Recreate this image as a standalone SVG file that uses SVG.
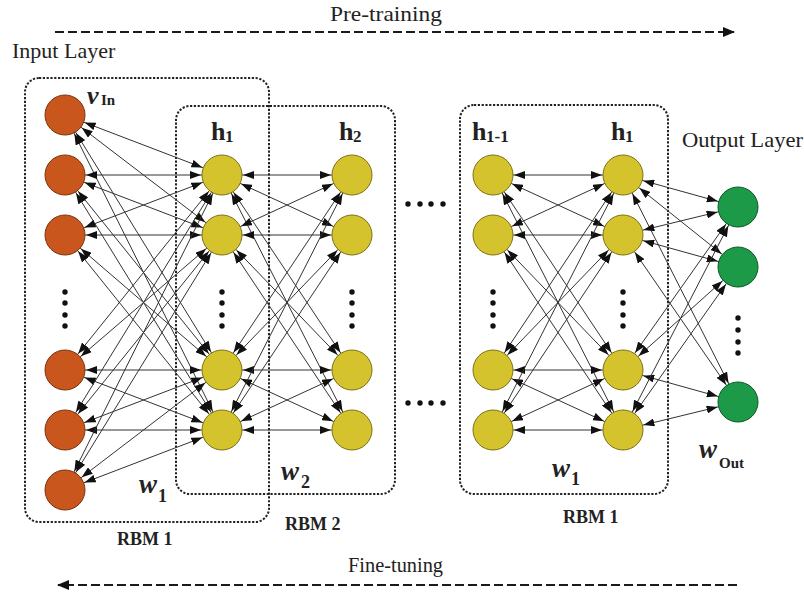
<svg xmlns="http://www.w3.org/2000/svg" width="804" height="594" viewBox="0 0 804 594">
<style>
text{font-family:"Liberation Serif","Times New Roman",serif;fill:#222}
.lbl{font-size:21px}
.b{font-weight:bold}
.it{font-style:italic;font-weight:bold}
.e line{stroke:#333;stroke-width:1;marker-start:url(#ah);marker-end:url(#ah)}
.box{fill:none;stroke:#222;stroke-width:2;stroke-dasharray:2.2 1.6}
.dash{stroke:#1a1a1a;stroke-width:2.2;stroke-dasharray:9 4;fill:none}
.o{fill:#C9571D;stroke:#7a3510;stroke-width:1}
.y{fill:#D4C32C;stroke:#7d7218;stroke-width:1}
.g{fill:#1C9A48;stroke:#0d5a28;stroke-width:1}
.dot{fill:#111}
</style>
<defs>
<marker id="ah" viewBox="0 0 32 8" markerUnits="userSpaceOnUse" markerWidth="32" markerHeight="8" refX="32" refY="4" orient="auto-start-reverse"><path d="M0,0 L11,4 L0,8 z" fill="#111"/></marker>
<marker id="big" viewBox="0 0 12 10" markerUnits="userSpaceOnUse" markerWidth="12" markerHeight="10" refX="11" refY="5" orient="auto"><path d="M0,0 L12,5 L0,10 z" fill="#111"/></marker>
<circle id="d" r="2.7" class="dot"/>
</defs>
<rect width="804" height="594" fill="#fff"/>

<!-- training arrows -->
<g id="pretraining">
<text class="lbl" x="330" y="21" textLength="112" lengthAdjust="spacingAndGlyphs">Pre-training</text>
<line class="dash" x1="55" y1="32" x2="734" y2="32" marker-end="url(#big)"/>
</g>
<g id="finetuning">
<text class="lbl" x="348" y="572" textLength="95" lengthAdjust="spacingAndGlyphs">Fine-tuning</text>
<line class="dash" x1="737" y1="585" x2="58" y2="585" marker-end="url(#big)"/>
</g>

<!-- boxes -->
<g id="rbm1-left">
<rect class="box" x="25" y="78" width="244" height="444" rx="14"/>
<text class="b" x="117" y="545" font-size="18">RBM 1</text>
</g>
<g id="rbm2">
<rect class="box" x="176" y="106" width="219" height="388" rx="14"/>
<text class="b" x="285" y="530" font-size="18">RBM 2</text>
</g>
<g id="rbm1-right">
<rect class="box" x="460" y="105" width="208" height="389" rx="14"/>
<text class="b" x="563" y="523" font-size="18">RBM 1</text>
</g>

<!-- connectors -->
<g id="connectors" class="e">
<line x1="65" y1="115" x2="222" y2="175"/><line x1="65" y1="115" x2="222" y2="235"/><line x1="65" y1="115" x2="222" y2="370"/><line x1="65" y1="115" x2="222" y2="430"/>
<line x1="65" y1="175" x2="222" y2="175"/><line x1="65" y1="175" x2="222" y2="235"/><line x1="65" y1="175" x2="222" y2="370"/><line x1="65" y1="175" x2="222" y2="430"/>
<line x1="65" y1="235" x2="222" y2="175"/><line x1="65" y1="235" x2="222" y2="235"/><line x1="65" y1="235" x2="222" y2="370"/><line x1="65" y1="235" x2="222" y2="430"/>
<line x1="65" y1="370" x2="222" y2="175"/><line x1="65" y1="370" x2="222" y2="235"/><line x1="65" y1="370" x2="222" y2="370"/><line x1="65" y1="370" x2="222" y2="430"/>
<line x1="65" y1="430" x2="222" y2="175"/><line x1="65" y1="430" x2="222" y2="235"/><line x1="65" y1="430" x2="222" y2="370"/><line x1="65" y1="430" x2="222" y2="430"/>
<line x1="65" y1="490" x2="222" y2="175"/><line x1="65" y1="490" x2="222" y2="235"/><line x1="65" y1="490" x2="222" y2="370"/><line x1="65" y1="490" x2="222" y2="430"/>

<line x1="222" y1="175" x2="352" y2="175"/><line x1="222" y1="175" x2="352" y2="235"/><line x1="222" y1="175" x2="352" y2="370"/><line x1="222" y1="175" x2="352" y2="430"/>
<line x1="222" y1="235" x2="352" y2="175"/><line x1="222" y1="235" x2="352" y2="235"/><line x1="222" y1="235" x2="352" y2="370"/><line x1="222" y1="235" x2="352" y2="430"/>
<line x1="222" y1="370" x2="352" y2="175"/><line x1="222" y1="370" x2="352" y2="235"/><line x1="222" y1="370" x2="352" y2="370"/><line x1="222" y1="370" x2="352" y2="430"/>
<line x1="222" y1="430" x2="352" y2="175"/><line x1="222" y1="430" x2="352" y2="235"/><line x1="222" y1="430" x2="352" y2="370"/><line x1="222" y1="430" x2="352" y2="430"/>

<line x1="493" y1="175" x2="623" y2="175"/><line x1="493" y1="175" x2="623" y2="235"/><line x1="493" y1="175" x2="623" y2="370"/><line x1="493" y1="175" x2="623" y2="430"/>
<line x1="493" y1="235" x2="623" y2="175"/><line x1="493" y1="235" x2="623" y2="235"/><line x1="493" y1="235" x2="623" y2="370"/><line x1="493" y1="235" x2="623" y2="430"/>
<line x1="493" y1="370" x2="623" y2="175"/><line x1="493" y1="370" x2="623" y2="235"/><line x1="493" y1="370" x2="623" y2="370"/><line x1="493" y1="370" x2="623" y2="430"/>
<line x1="493" y1="430" x2="623" y2="175"/><line x1="493" y1="430" x2="623" y2="235"/><line x1="493" y1="430" x2="623" y2="370"/><line x1="493" y1="430" x2="623" y2="430"/>

<line x1="623" y1="175" x2="738" y2="207"/><line x1="623" y1="175" x2="738" y2="267"/><line x1="623" y1="175" x2="738" y2="402"/>
<line x1="623" y1="235" x2="738" y2="207"/><line x1="623" y1="235" x2="738" y2="267"/><line x1="623" y1="235" x2="738" y2="402"/>
<line x1="623" y1="370" x2="738" y2="207"/><line x1="623" y1="370" x2="738" y2="267"/><line x1="623" y1="370" x2="738" y2="402"/>
<line x1="623" y1="430" x2="738" y2="207"/><line x1="623" y1="430" x2="738" y2="267"/><line x1="623" y1="430" x2="738" y2="402"/>
</g>

<!-- input layer -->
<g id="input-layer">
<text x="12" y="58" font-size="22">Input Layer</text>
<text x="87" y="104" class="it" font-size="26">v</text><text x="101" y="105" class="b" font-size="15">In</text>
<circle class="o" cx="65" cy="115" r="20"/>
<circle class="o" cx="65" cy="175" r="20"/>
<circle class="o" cx="65" cy="235" r="20"/>
<use href="#d" x="65" y="292"/><use href="#d" x="65" y="303"/><use href="#d" x="65" y="315"/><use href="#d" x="65" y="326"/>
<circle class="o" cx="65" cy="370" r="20"/>
<circle class="o" cx="65" cy="430" r="20"/>
<circle class="o" cx="65" cy="490" r="20"/>
</g>

<g id="h1-layer">
<text x="211" y="140" class="b" font-size="26">h</text><text x="225" y="142" class="b" font-size="17">1</text>
<circle class="y" cx="222" cy="175" r="20"/>
<circle class="y" cx="222" cy="235" r="20"/>
<use href="#d" x="222" y="292"/><use href="#d" x="222" y="303"/><use href="#d" x="222" y="315"/><use href="#d" x="222" y="326"/>
<circle class="y" cx="222" cy="370" r="20"/>
<circle class="y" cx="222" cy="430" r="20"/>
</g>

<g id="h2-layer">
<text x="339" y="140" class="b" font-size="26">h</text><text x="353" y="142" class="b" font-size="17">2</text>
<circle class="y" cx="352" cy="175" r="20"/>
<circle class="y" cx="352" cy="235" r="20"/>
<use href="#d" x="352" y="292"/><use href="#d" x="352" y="303"/><use href="#d" x="352" y="315"/><use href="#d" x="352" y="326"/>
<circle class="y" cx="352" cy="370" r="20"/>
<circle class="y" cx="352" cy="430" r="20"/>
</g>

<g id="ellipsis">
<use href="#d" x="408" y="204"/><use href="#d" x="420" y="204"/><use href="#d" x="431" y="204"/><use href="#d" x="443" y="204"/>
<use href="#d" x="408" y="403"/><use href="#d" x="420" y="403"/><use href="#d" x="431" y="403"/><use href="#d" x="443" y="403"/>
</g>

<g id="hl-1-layer">
<text x="472" y="140" class="b" font-size="26">h</text><text x="486" y="142" class="b" font-size="17">1-1</text>
<circle class="y" cx="493" cy="175" r="20"/>
<circle class="y" cx="493" cy="235" r="20"/>
<use href="#d" x="493" y="292"/><use href="#d" x="493" y="303"/><use href="#d" x="493" y="315"/><use href="#d" x="493" y="326"/>
<circle class="y" cx="493" cy="370" r="20"/>
<circle class="y" cx="493" cy="430" r="20"/>
</g>

<g id="hl-layer">
<text x="611" y="140" class="b" font-size="26">h</text><text x="625" y="142" class="b" font-size="17">1</text>
<circle class="y" cx="623" cy="175" r="20"/>
<circle class="y" cx="623" cy="235" r="20"/>
<use href="#d" x="623" y="292"/><use href="#d" x="623" y="303"/><use href="#d" x="623" y="315"/><use href="#d" x="623" y="326"/>
<circle class="y" cx="623" cy="370" r="20"/>
<circle class="y" cx="623" cy="430" r="20"/>
</g>

<g id="output-layer">
<text x="682" y="147" font-size="21" textLength="121" lengthAdjust="spacingAndGlyphs">Output Layer</text>
<circle class="g" cx="738" cy="207" r="20"/>
<circle class="g" cx="738" cy="267" r="20"/>
<use href="#d" x="738" y="318"/><use href="#d" x="738" y="330"/><use href="#d" x="738" y="342"/><use href="#d" x="738" y="353"/>
<circle class="g" cx="738" cy="402" r="20"/>
</g>

<g id="weights">
<text x="139" y="493" class="it" font-size="27">w</text><text x="158" y="502" class="b" font-size="18">1</text>
<text x="281" y="480" class="it" font-size="27">w</text><text x="301" y="488" class="b" font-size="18">2</text>
<text x="552" y="477" class="it" font-size="27">w</text><text x="571" y="485" class="b" font-size="18">1</text>
<text x="699" y="458" class="it" font-size="27">w</text><text x="719" y="468" class="b" font-size="15">Out</text>
</g>
</svg>
